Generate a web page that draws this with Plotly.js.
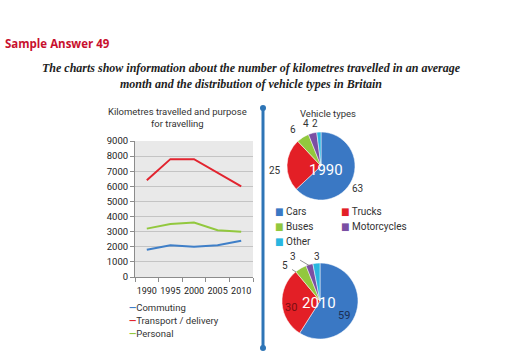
<!DOCTYPE html>
<html>
<head>
<meta charset="utf-8">
<script src="https://cdn.plot.ly/plotly-3.0.1.min.js"></script>
<style>
html,body{margin:0;padding:0;background:#fff;}
#chart{width:512px;height:355px;}
</style>
</head>
<body>
<div id="chart"></div>
<script>
// ---- data ----
var years = ['1990', '1995', '2000', '2005', '2010'];
var commuting = [1800, 2100, 2000, 2100, 2400];
var transport = [6400, 7800, 7800, 6900, 6000];
var personal = [3200, 3500, 3600, 3100, 3000];
var seriesNames = ['Commuting', 'Transport / delivery', 'Personal'];

var vehicleTypes = ['Cars', 'Trucks', 'Buses', 'Motorcycles', 'Other'];
var share1990 = [63, 25, 6, 4, 2];
var share2010 = [59, 30, 5, 3, 3];

var yTicks = [0, 1000, 2000, 3000, 4000, 5000, 6000, 7000, 8000, 9000];

// ---- styles ----
var lineColors = ['#3f7fc8', '#e2242f', '#92c83e'];
var pieColors = ['#3a78c4', '#e31f26', '#92c83e', '#7b4fa3', '#29b6e0'];
var narrow = 'Roboto, "DejaVu Sans Condensed", sans-serif';

var W = 512, H = 355;
function px(x) { return x / W; }
function py(y) { return 1 - y / H; }

var traces = [
  {type: 'scatter', mode: 'lines', x: years, y: commuting, name: seriesNames[0],
   line: {color: lineColors[0], width: 2}, xaxis: 'x', yaxis: 'y', showlegend: false},
  {type: 'scatter', mode: 'lines', x: years, y: transport, name: seriesNames[1],
   line: {color: lineColors[1], width: 2}, xaxis: 'x', yaxis: 'y', showlegend: false},
  {type: 'scatter', mode: 'lines', x: years, y: personal, name: seriesNames[2],
   line: {color: lineColors[2], width: 2}, xaxis: 'x', yaxis: 'y', showlegend: false},
  {type: 'pie', labels: vehicleTypes, values: share1990, sort: false, direction: 'clockwise',
   rotation: 0, marker: {colors: pieColors, line: {color: '#ffffff', width: 0.5}},
   textinfo: 'none', showlegend: false,
   domain: {x: [px(287), px(355)], y: [py(200), py(132)]}},
  {type: 'pie', labels: vehicleTypes, values: share2010, sort: false, direction: 'clockwise',
   rotation: 0, marker: {colors: pieColors, line: {color: '#ffffff', width: 0.5}},
   textinfo: 'none', showlegend: false,
   domain: {x: [px(282), px(358)], y: [py(339), py(263)]}}
];

var annotations = [
  {text: '<b>Sample Answer 49</b>', x: px(3), y: py(43), xref: 'paper', yref: 'paper',
   xanchor: 'left', yanchor: 'middle', showarrow: false,
   font: {family: '"Open Sans", sans-serif', size: 11.5, color: '#c8102e'}},
  {text: '<b><i>The charts show information about the number of kilometres travelled in an average</i></b>',
   x: px(251), y: py(68), xref: 'paper', yref: 'paper', xanchor: 'center', yanchor: 'middle',
   showarrow: false, font: {family: '"Liberation Serif", serif', size: 12, color: '#222'}},
  {text: '<b><i>month and the distribution of vehicle types in Britain</i></b>',
   x: px(251), y: py(84), xref: 'paper', yref: 'paper', xanchor: 'center', yanchor: 'middle',
   showarrow: false, font: {family: '"Liberation Serif", serif', size: 12, color: '#222'}},
  {text: 'Kilometres travelled and purpose', x: px(177), y: py(111), xref: 'paper', yref: 'paper',
   xanchor: 'center', yanchor: 'middle', showarrow: false,
   font: {family: narrow, size: 9.5, color: '#333'}},
  {text: 'for travelling', x: px(177), y: py(124), xref: 'paper', yref: 'paper',
   xanchor: 'center', yanchor: 'middle', showarrow: false,
   font: {family: narrow, size: 9.5, color: '#333'}},
  {text: 'Vehicle types', x: px(328), y: py(113), xref: 'paper', yref: 'paper',
   xanchor: 'center', yanchor: 'middle', showarrow: false,
   font: {family: narrow, size: 9.5, color: '#333'}},
  {text: years[0], x: px(326), y: py(170), xref: 'paper', yref: 'paper',
   xanchor: 'center', yanchor: 'middle', showarrow: false,
   font: {family: narrow, size: 15, color: '#ffffff'}},
  {text: years[4], x: px(319), y: py(303), xref: 'paper', yref: 'paper',
   xanchor: 'center', yanchor: 'middle', showarrow: false,
   font: {family: narrow, size: 15, color: '#ffffff'}}
];

// pie value labels (text read from the data arrays)
var lab1990 = [[357, 188], [275, 170], [293, 129], [306, 123], [315, 123]];
for (var a = 0; a < share1990.length; a++) {
  annotations.push({text: String(share1990[a]), x: px(lab1990[a][0]), y: py(lab1990[a][1]),
    xref: 'paper', yref: 'paper', xanchor: 'center', yanchor: 'middle', showarrow: false,
    font: {family: narrow, size: 10, color: '#333'}});
}
var lab2010 = [[344, 315], [291, 307], [285, 265], [293, 256], [317, 256]];
var col2010 = ['#1b2f55', '#7a0e12', '#333', '#333', '#333'];
var tip2010 = [null, null, [296, 272], [310, 266], null];
for (var b = 0; b < share2010.length; b++) {
  var ann = {text: String(share2010[b]), x: px(lab2010[b][0]), y: py(lab2010[b][1]),
    xref: 'paper', yref: 'paper', xanchor: 'center', yanchor: 'middle', showarrow: false,
    font: {family: narrow, size: b < 2 ? 11 : 10, color: col2010[b]}};
  if (tip2010[b]) {
    ann.showarrow = true; ann.arrowhead = 0; ann.arrowwidth = 0.8; ann.arrowcolor = '#777';
    ann.axref = 'pixel'; ann.ayref = 'pixel';
    ann.x = px(tip2010[b][0]); ann.y = py(tip2010[b][1]);
    ann.ax = lab2010[b][0] - tip2010[b][0]; ann.ay = lab2010[b][1] - tip2010[b][1];
    ann.standoff = 0; ann.startstandoff = 3;
  }
  annotations.push(ann);
}

// line chart legend
for (var i = 0; i < seriesNames.length; i++) {
  annotations.push({
    text: '<span style="color:' + lineColors[i] + '"><b>—</b></span>' + seriesNames[i],
    x: px(127), y: py(307 + i * 13), xref: 'paper', yref: 'paper',
    xanchor: 'left', yanchor: 'middle', showarrow: false,
    font: {family: narrow, size: 9.5, color: '#333'}
  });
}
// pie legend (two columns)
var legPos = [[273, 211], [339, 211], [273, 226], [339, 226], [273, 241]];
for (var j = 0; j < vehicleTypes.length; j++) {
  annotations.push({
    text: '<span style="color:' + pieColors[j] + '">■</span> ' + vehicleTypes[j],
    x: px(legPos[j][0]), y: py(legPos[j][1]), xref: 'paper', yref: 'paper',
    xanchor: 'left', yanchor: 'middle', showarrow: false,
    font: {family: narrow, size: 10, color: '#333'}
  });
}

var layout = {
  width: W, height: H,
  margin: {l: 0, r: 0, t: 0, b: 0},
  paper_bgcolor: '#ffffff',
  plot_bgcolor: '#e9e9e9',
  showlegend: false,
  xaxis: {domain: [px(135), px(253)], type: 'category', range: [-0.5, years.length - 0.5],
          tickson: 'boundaries', tickangle: 0,
          ticks: 'outside', ticklen: 4, tickcolor: '#8c8c8c', ticklabelstandoff: 5,
          showline: true, linecolor: '#8c8c8c', linewidth: 1, showgrid: false,
          tickfont: {family: narrow, size: 9, color: '#222'}, fixedrange: true},
  yaxis: {domain: [py(277), py(141)], range: [0, 9000], tickvals: yTicks,
          ticks: 'outside', ticklen: 4, tickcolor: '#8c8c8c',
          showline: true, linecolor: '#8c8c8c', linewidth: 1,
          gridcolor: '#c4c4c4', gridwidth: 1, zeroline: false,
          tickfont: {family: narrow, size: 9.5, color: '#222'}, fixedrange: true},
  annotations: annotations,
  shapes: [
    {type: 'line', xref: 'paper', yref: 'paper', x0: px(263), x1: px(263), y0: py(108), y1: py(348),
     line: {color: '#2e75b6', width: 3}},
    {type: 'circle', xref: 'paper', yref: 'paper', x0: px(260), x1: px(266), y0: py(111), y1: py(105),
     fillcolor: '#2e75b6', line: {color: '#2e75b6', width: 0}},
    {type: 'circle', xref: 'paper', yref: 'paper', x0: px(260), x1: px(266), y0: py(351), y1: py(345),
     fillcolor: '#2e75b6', line: {color: '#2e75b6', width: 0}}
  ]
};

Plotly.newPlot('chart', traces, layout, {displayModeBar: false, staticPlot: true});
</script>
</body>
</html>
